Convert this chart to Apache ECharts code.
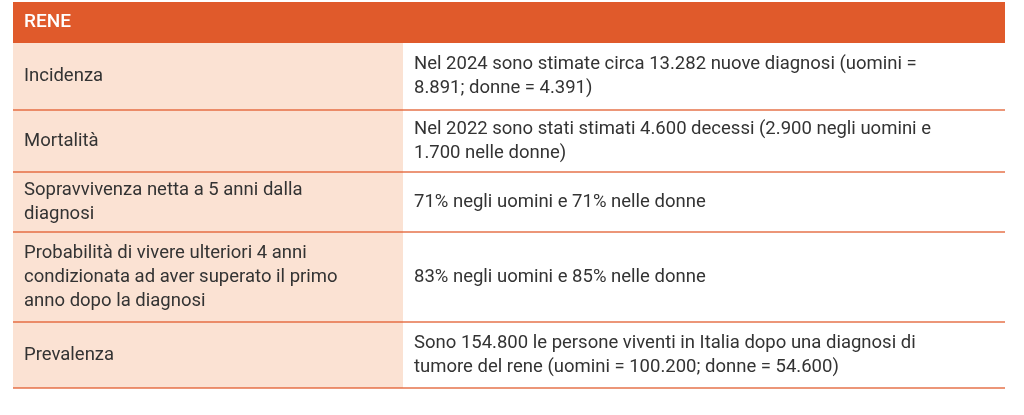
<!DOCTYPE html>
<html lang="it">
<head>
<meta charset="UTF-8">
<title>RENE</title>
<script src="https://cdn.jsdelivr.net/npm/echarts@6/dist/echarts.min.js"></script>
<style>
    html,body{margin:0;padding:0;background:#fff;}
    #main{width:1024px;height:415px;}
</style>
</head>
<body>
<div id="main"></div>
<script>
    var title = 'RENE';
    var rowLabels = [
        'Incidenza',
        'Mortalità',
        'Sopravvivenza netta a 5 anni dalla\ndiagnosi',
        'Probabilità di vivere ulteriori 4 anni\ncondizionata ad aver superato il primo\nanno dopo la diagnosi',
        'Prevalenza'
    ];
    var rowTexts = [
        'Nel 2024 sono stimate circa 13.282 nuove diagnosi (uomini =\n8.891; donne = 4.391)',
        'Nel 2022 sono stati stimati 4.600 decessi (2.900 negli uomini e\n1.700 nelle donne)',
        '71% negli uomini e 71% nelle donne',
        '83% negli uomini e 85% nelle donne',
        'Sono 154.800 le persone viventi in Italia dopo una diagnosi di\ntumore del rene (uomini = 100.200; donne = 54.600)'
    ];

    // layout
    var left = 13, right = 1005, split = 403;
    var headTop = 2, headBottom = 43;
    var rowEdges = [43, 110, 172, 232, 322, 388];
    var orange = '#e05a2b', peach = '#fbe2d3', ink = '#333333';
    var font = 'Roboto, "Noto Sans", sans-serif';

    var g = [];
    g.push({type:'rect', shape:{x:left, y:headTop, width:right-left, height:headBottom-headTop}, style:{fill:orange}});
    g.push({type:'text', x:left+11, y:(headTop+headBottom)/2, style:{text:title, fill:'#fff', font:'500 19px ' + font, verticalAlign:'middle'}});
    g.push({type:'rect', shape:{x:left, y:headBottom, width:split-left, height:rowEdges[rowEdges.length-1]-headBottom}, style:{fill:peach}});
    rowLabels.forEach(function(lab, i){
        var y0 = rowEdges[i], y1 = rowEdges[i+1], mid = (y0+y1)/2;
        g.push({type:'text', x:left+11, y:mid, style:{text:lab, fill:ink, font:'18.5px ' + font, lineHeight:24, verticalAlign:'middle'}});
        g.push({type:'text', x:split+11, y:mid, style:{text:rowTexts[i], fill:ink, font:'18.5px ' + font, lineHeight:24, verticalAlign:'middle'}});
        g.push({type:'line', shape:{x1:left, y1:y1, x2:right, y2:y1}, style:{stroke:orange, lineWidth:1.5, opacity:0.85}});
    });

    var chart = echarts.init(document.getElementById('main'));
    chart.setOption({animation:false, graphic:{elements:g}});
</script>
</body>
</html>
